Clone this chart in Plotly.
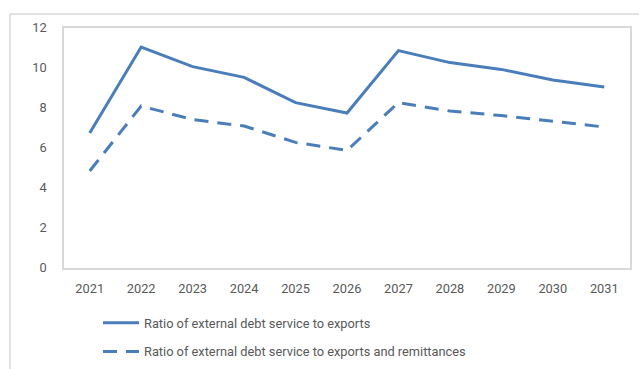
import plotly.graph_objects as go

# Projection years and debt service ratios (%)
years = ["2021", "2022", "2023", "2024", "2025", "2026",
         "2027", "2028", "2029", "2030", "2031"]
ratio_exports = [6.75, 11.05, 10.07, 9.53, 8.27, 7.75,
                 10.87, 10.27, 9.93, 9.4, 9.05]
ratio_exports_remit = [4.85, 8.1, 7.42, 7.1, 6.28, 5.88,
                       8.27, 7.85, 7.62, 7.32, 7.05]
y_ticks = [0, 2, 4, 6, 8, 10, 12]

BLUE = "#4A7EBB"
GREY_TEXT = "#595959"
BORDER = "#D9D9D9"
FONT = "Roboto, sans-serif"
FS = 12.8

fig = go.Figure()
fig.add_trace(go.Scatter(
    x=years, y=ratio_exports, mode="lines",
    name="Ratio of external debt service to exports",
    line=dict(color=BLUE, width=3),
    legendgroup="a",
))
fig.add_trace(go.Scatter(
    x=years, y=ratio_exports_remit, mode="lines",
    name="Ratio of external debt service to exports and remittances",
    line=dict(color=BLUE, width=3, dash="14px,9px"),
    legendgroup="b",
))

W, H = 639, 369
ml, mr, mt, mb = 64, 9, 28, 101
pw, ph = W - ml - mr, H - mt - mb


def px_to_paper_x(px):
    return (px - ml) / pw


def px_to_paper_y(py):
    return (H - mb - py) / ph


# outer chart frame
fig.add_shape(
    type="rect", xref="paper", yref="paper",
    x0=px_to_paper_x(10), x1=px_to_paper_x(650),
    y0=px_to_paper_y(380), y1=px_to_paper_y(14),
    line=dict(color=BORDER, width=1.5), fillcolor="rgba(0,0,0,0)",
    layer="below",
)

fig.update_layout(
    width=W, height=H,
    margin=dict(l=ml, r=mr, t=mt, b=mb, autoexpand=False),
    paper_bgcolor="white", plot_bgcolor="white",
    font=dict(family=FONT, size=FS, color=GREY_TEXT),
    showlegend=True,
    legend=dict(
        xref="container", yref="container",
        x=98 / W, y=1 - 308 / H,
        xanchor="left", yanchor="top",
        orientation="v", tracegroupgap=9,
        font=dict(family=FONT, size=FS, color=GREY_TEXT),
        itemwidth=36,
        bgcolor="rgba(0,0,0,0)",
    ),
    xaxis=dict(
        type="category", range=[-0.5, 10.5],
        showgrid=False, zeroline=False,
        showline=True, linecolor=BORDER, linewidth=1.5, mirror=True,
        ticks="", ticklabelstandoff=8,
        tickfont=dict(family=FONT, size=FS, color=GREY_TEXT),
    ),
    yaxis=dict(
        range=[0, 12], tickvals=y_ticks,
        showgrid=False, zeroline=False,
        showline=True, linecolor=BORDER, linewidth=1.5, mirror=True,
        ticks="", ticklabelstandoff=13,
        tickfont=dict(family=FONT, size=FS, color=GREY_TEXT),
    ),
)

fig.write_html("out.html")
